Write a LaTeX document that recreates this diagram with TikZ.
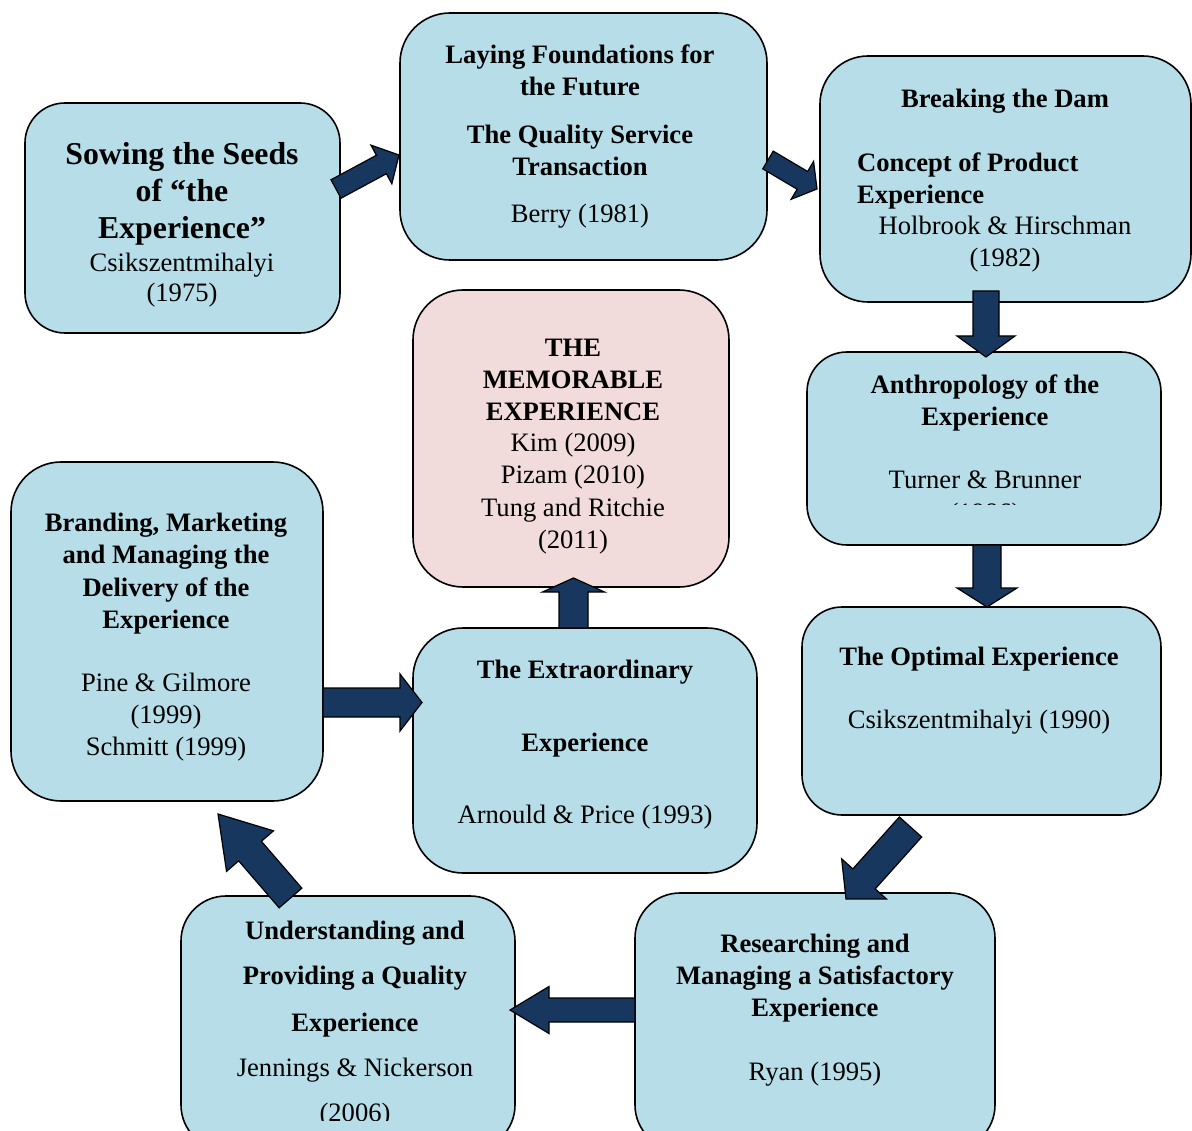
\documentclass[tikz,border=0pt]{standalone}
\usepackage{fontspec}
\setmainfont{Liberation Serif}
\usetikzlibrary{calc}

\definecolor{boxblue}{HTML}{B7DEE8}
\definecolor{boxpink}{HTML}{F2DCDB}
\definecolor{navy}{HTML}{17375E}

% block arrow: #1 tail, #2 tip, #3 shaft half width, #4 head half width, #5 head length
\newcommand\blockarrow[5]{%
  \coordinate (ba-neck) at ($(#2)!#5!(#1)$);
  \filldraw[arrowbody]
    ($(#1)!#3!90:(#2)$) -- ($(ba-neck)!#3!90:(#2)$) -- ($(ba-neck)!#4!90:(#2)$)
    -- (#2)
    -- ($(ba-neck)!#4!-90:(#2)$) -- ($(ba-neck)!#3!-90:(#2)$) -- ($(#1)!#3!-90:(#2)$) -- cycle;
}

\tikzset{
  box/.style={draw=black, line width=1.6pt, fill=boxblue, inner sep=0pt, outer sep=0pt},
  hd/.style={anchor=base, font=\fontsize{26.6}{32}\selectfont\bfseries, inner sep=0pt},
  big/.style={anchor=base, font=\fontsize{31.8}{37}\selectfont\bfseries, inner sep=0pt},
  ref/.style={anchor=base, font=\fontsize{26.6}{32}\selectfont, inner sep=0pt},
  arrowbody/.style={fill=navy, draw=black, line width=1.2pt, line join=miter},
}

\begin{document}
\begin{tikzpicture}[x=1pt,y=-1pt]
\useasboundingbox (0,0) rectangle (1192,1131);
\clip (0,0) rectangle (1192,1131);

% ---- boxes
\node[box, minimum width=315pt, minimum height=230pt, rounded corners=40pt] (seeds) at (182.5,218) {};
\node[box, minimum width=367pt, minimum height=247pt, rounded corners=50pt] (found) at (583.5,136.5) {};
\node[box, minimum width=371pt, minimum height=246pt, rounded corners=48pt] (dam) at (1005.5,179) {};
\node[box, minimum width=354pt, minimum height=193pt, rounded corners=40pt] (anthro) at (984,448.5) {};
\node[box, minimum width=359pt, minimum height=208pt, rounded corners=40pt] (optimal) at (981.5,711) {};
\node[box, minimum width=360pt, minimum height=257pt, rounded corners=45pt] (research) at (815,1021.5) {};
\node[box, minimum width=334pt, minimum height=254pt, rounded corners=45pt] (quality) at (348,1023) {};
\node[box, minimum width=312pt, minimum height=339pt, rounded corners=50pt] (brand) at (167,631.5) {};
\node[box, minimum width=344pt, minimum height=245pt, rounded corners=50pt] (extra) at (585,750.5) {};
\node[box, fill=boxpink, minimum width=316pt, minimum height=297pt, rounded corners=50pt] (memo) at (571,438.5) {};

% ---- texts
\node[big] (seeds-1) at (182,165) {Sowing the Seeds};
\node[big] (seeds-2) at (182,202) {of “the};
\node[big] (seeds-3) at (182,239) {Experience”};
\node[ref] (seeds-4) at (182,272) {Csikszentmihalyi};
\node[ref] (seeds-5) at (182,302) {(1975)};

\node[hd] (found-1) at (580,64) {Laying Foundations for};
\node[hd] (found-2) at (580,96) {the Future};
\node[hd] (found-3) at (580,144) {The Quality Service};
\node[hd] (found-4) at (580,176) {Transaction};
\node[ref] (found-5) at (580,223) {Berry (1981)};

\node[hd] (dam-1) at (1005,108) {Breaking the Dam};
\node[hd, anchor=base west] (dam-2) at (857,172) {Concept of Product};
\node[hd, anchor=base west] (dam-3) at (857,204) {Experience};
\node[ref] (dam-4) at (1005,235) {Holbrook \& Hirschman};
\node[ref] (dam-5) at (1005,267) {(1982)};

\node[hd] (anthro-1) at (985,394) {Anthropology of the};
\node[hd] (anthro-2) at (985,426) {Experience};
\node[ref] (anthro-3) at (985,489) {Turner \& Brunner};
\begin{scope}
  \clip (807,440) rectangle (1161,504.5);
  \node[ref] (anthro-4) at (985,521) {(1986)};
\end{scope}

\node[hd] (optimal-1) at (979,665) {The Optimal Experience};
\node[ref] (optimal-2) at (979,728) {Csikszentmihalyi (1990)};

\node[hd] (research-1) at (815,952) {Researching and};
\node[hd] (research-2) at (815,984) {Managing a Satisfactory};
\node[hd] (research-3) at (815,1016) {Experience};
\node[ref] (research-4) at (815,1080) {Ryan (1995)};

\node[hd] (quality-1) at (355,939) {Understanding and};
\node[hd] (quality-2) at (355,984) {Providing a Quality};
\node[hd] (quality-3) at (355,1031) {Experience};
\node[ref] (quality-4) at (355,1076) {Jennings \& Nickerson};
\begin{scope}
  \clip (181,1090) rectangle (515,1120);
  \node[ref] (quality-5) at (355,1121) {(2006)};
\end{scope}

\node[hd] (brand-1) at (166,531) {Branding, Marketing};
\node[hd] (brand-2) at (166,563) {and Managing the};
\node[hd] (brand-3) at (166,596) {Delivery of the};
\node[hd] (brand-4) at (166,628) {Experience};
\node[ref] (brand-5) at (166,691) {Pine \& Gilmore};
\node[ref] (brand-6) at (166,723) {(1999)};
\node[ref] (brand-7) at (166,755) {Schmitt (1999)};

\node[hd] (extra-1) at (585,678) {The Extraordinary};
\node[hd] (extra-2) at (585,751) {Experience};
\node[ref] (extra-3) at (585,823) {Arnould \& Price (1993)};

\node[hd] (memo-1) at (573,357) {THE};
\node[hd] (memo-2) at (573,389) {MEMORABLE};
\node[hd] (memo-3) at (573,421) {EXPERIENCE};
\node[ref] (memo-4) at (573,452) {Kim (2009)};
\node[ref] (memo-5) at (573,484) {Pizam (2010)};
\node[ref] (memo-6) at (573,516) {Tung and Ritchie};
\node[ref] (memo-7) at (573,548) {(2011)};

% ---- connector end points
\coordinate (a1t) at (336,189);    \coordinate (a1h) at (399,155);
\coordinate (a2t) at (768,160);    \coordinate (a2h) at (817,189);
\coordinate (a3t) at (986,291);    \coordinate (a3h) at (986,357);
\coordinate (a4t) at (987,545);    \coordinate (a4h) at (987,607);
\coordinate (a5t) at (910.5,827);  \coordinate (a5h) at (846,899);
\coordinate (a6t) at (635,1010);   \coordinate (a6h) at (510,1010);
\coordinate (a7t) at (290.5,898);  \coordinate (a7h) at (218,814);
\coordinate (a8t) at (573.5,628);  \coordinate (a8h) at (573.5,578);
\coordinate (a9t) at (323,702.5);  \coordinate (a9h) at (422,702.5);

% ---- block arrows
\blockarrow{a1t}{a1h}{10.5pt}{22pt}{20pt}
\blockarrow{a2t}{a2h}{10.3pt}{22pt}{17pt}
\blockarrow{a3t}{a3h}{13pt}{29pt}{21pt}
\blockarrow{a4t}{a4h}{14pt}{30pt}{19pt}
\blockarrow{a5t}{a5h}{15pt}{30pt}{27pt}
\blockarrow{a6t}{a6h}{12pt}{23.5pt}{39pt}
\blockarrow{a7t}{a7h}{15pt}{31pt}{49pt}
\blockarrow{a8t}{a8h}{14.5pt}{31pt}{14pt}
\blockarrow{a9t}{a9h}{14.5pt}{28.5pt}{22pt}
\end{tikzpicture}
\end{document}
